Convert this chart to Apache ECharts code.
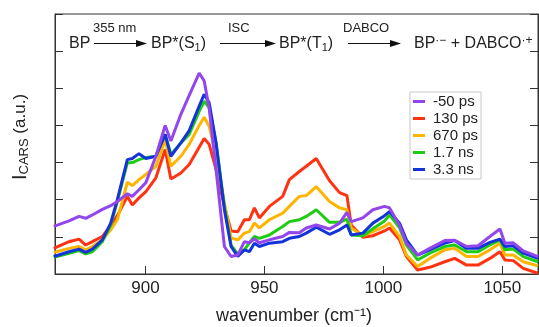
<!DOCTYPE html>
<html>
<head>
<meta charset="utf-8">
<script src="https://cdn.jsdelivr.net/npm/echarts@6/dist/echarts.min.js"></script>
<style>
  html, body { margin: 0; padding: 0; background: #fff; }
  #chart { width: 539px; height: 327px; }
</style>
</head>
<body>
<div id="chart"></div>
<script>
// wavenumber (cm-1) sample positions, shared by all traces
const wavenumber = [861.5, 867.9, 872.1, 874.9, 877.7, 881.9, 885.4, 888.2, 892.4, 894.5,
  897.3, 900.2, 904.4, 908.3, 910.7, 914.9, 918.4, 922.6, 924.7, 926.8,
  929.7, 933.2, 936.0, 938.8, 941.6, 943.7, 945.8, 947.9, 952.1, 957.7,
  960.5, 964.7, 967.6, 971.8, 977.4, 981.6, 984.7, 986.5, 991.4, 995.6,
  1000.5, 1002.6, 1006.8, 1009.7, 1014.4, 1019.5, 1025.8, 1030.0, 1035.0, 1039.8,
  1044.8, 1049.0, 1051.1, 1054.6, 1058.8, 1065.0];

// I_CARS (a.u.) per delay
const minus50ps = [1.28, 1.43, 1.55, 1.50, 1.59, 1.74, 1.84, 1.95, 2.16, 2.09,
  2.27, 2.46, 3.17, 4.00, 3.58, 4.30, 4.81, 5.41, 5.20, 4.46,
  2.80, 0.74, 0.47, 0.51, 0.87, 0.84, 0.95, 0.84, 0.92, 1.01,
  1.12, 1.11, 1.24, 1.32, 1.21, 1.37, 1.66, 1.41, 1.51, 1.73,
  1.82, 1.78, 1.31, 0.83, 0.51, 0.69, 0.90, 0.91, 0.74, 0.76,
  1.01, 1.21, 0.83, 0.84, 0.62, 0.47];
const ps130 = [0.69, 0.87, 0.94, 0.78, 0.87, 1.01, 1.30, 1.57, 2.09, 1.86,
  2.05, 2.22, 2.59, 3.35, 2.56, 2.72, 2.95, 3.41, 3.65, 3.49,
  2.81, 1.82, 1.16, 1.14, 1.46, 1.46, 1.78, 1.51, 1.82, 2.09,
  2.54, 2.76, 2.90, 3.11, 2.51, 2.19, 2.11, 1.32, 0.99, 1.03,
  1.16, 1.24, 0.92, 0.47, 0.11, 0.18, 0.33, 0.42, 0.24, 0.24,
  0.42, 0.60, 0.38, 0.36, 0.15, 0.02];
const ps670 = [0.58, 0.69, 0.74, 0.65, 0.74, 0.92, 1.19, 1.46, 2.47, 2.38,
  2.54, 2.68, 2.90, 3.62, 2.90, 3.17, 3.49, 4.00, 4.22, 3.98,
  3.17, 1.91, 0.97, 0.92, 1.10, 1.14, 1.37, 1.24, 1.46, 1.64,
  1.82, 2.09, 2.11, 2.35, 1.95, 1.78, 1.73, 1.24, 1.03, 1.14,
  1.28, 1.37, 1.01, 0.51, 0.20, 0.42, 0.65, 0.69, 0.47, 0.47,
  0.65, 0.83, 0.51, 0.51, 0.33, 0.22];
const ns1_7 = [0.45, 0.56, 0.63, 0.54, 0.60, 0.87, 1.32, 1.95, 2.99, 3.00,
  3.08, 3.14, 3.17, 3.76, 3.22, 3.53, 3.76, 4.38, 4.65, 4.48,
  3.53, 1.82, 0.78, 0.54, 0.65, 0.84, 1.01, 0.96, 1.05, 1.28,
  1.41, 1.46, 1.55, 1.73, 1.39, 1.39, 1.48, 1.05, 1.03, 1.22,
  1.43, 1.59, 1.24, 0.78, 0.38, 0.56, 0.74, 0.78, 0.60, 0.60,
  0.78, 0.92, 0.65, 0.67, 0.47, 0.33];
const ns3_3 = [0.47, 0.60, 0.67, 0.58, 0.67, 0.92, 1.37, 2.00, 3.08, 3.11,
  3.24, 3.11, 3.17, 3.76, 3.17, 3.53, 3.86, 4.52, 4.84, 4.61,
  3.53, 1.73, 0.74, 0.47, 0.65, 0.60, 0.83, 0.74, 0.83, 0.87,
  0.96, 1.01, 1.10, 1.26, 1.07, 1.19, 1.32, 1.05, 1.10, 1.37,
  1.57, 1.68, 1.37, 0.92, 0.51, 0.65, 0.83, 0.90, 0.69, 0.69,
  0.85, 0.94, 0.74, 0.76, 0.56, 0.42];

const legendNames = ['-50 ps', '130 ps', '670 ps', '1.7 ns', '3.3 ns'];
const xTicks = [900, 950, 1000, 1050];

const FONT = 'Liberation Sans, Arial, Helvetica, sans-serif';
const AXIS = '#333';
const INK = '#222';

const traces = [
  { name: legendNames[0], values: minus50ps, color: '#9346EE', z: 5 },
  { name: legendNames[1], values: ps130, color: '#FF3312', z: 2 },
  { name: legendNames[2], values: ps670, color: '#FFB400', z: 2 },
  { name: legendNames[3], values: ns1_7, color: '#1FCC14', z: 3 },
  { name: legendNames[4], values: ns3_3, color: '#1434DA', z: 4 }
];

const series = traces.map(t => ({
  name: t.name,
  type: 'line',
  data: wavenumber.map((w, i) => [w, t.values[i]]),
  symbol: 'none',
  z: t.z,
  lineStyle: { color: t.color, width: 3 },
  itemStyle: { color: t.color },
  animation: false
}));

// reaction scheme above the traces
const richScheme = {
  m: { font: '16px ' + FONT, fill: INK, lineHeight: 20, verticalAlign: 'middle' },
  sub: { font: '11px ' + FONT, fill: INK, lineHeight: 20, verticalAlign: 'bottom', padding: [0, 0, 1, 0] },
  sup: { font: '12px ' + FONT, fill: INK, lineHeight: 20, verticalAlign: 'top', padding: [1, 0, 0, 0] }
};
function arrow(x1, x2, y) {
  return [
    { type: 'line', shape: { x1: x1, y1: y, x2: x2 - 8, y2: y }, style: { stroke: '#111', lineWidth: 1.2 } },
    { type: 'polygon', shape: { points: [[x2, y], [x2 - 11, y - 3.5], [x2 - 11, y + 3.5]] }, style: { fill: '#111' } }
  ];
}
function label(text, x, y, size) {
  return { type: 'text', x: x, y: y, style: { text: text, font: size + 'px ' + FONT, fill: INK, textVerticalAlign: 'middle' } };
}
function scheme(text, x) {
  return { type: 'text', x: x, y: 44, style: { text: text, rich: richScheme, textVerticalAlign: 'middle' } };
}

const graphic = [
  scheme('{m|BP}', 69),
  ...arrow(94, 147, 43.5),
  label('355 nm', 93, 28, 13),
  scheme('{m|BP*(S}{sub|1}{m|)}', 151),
  ...arrow(220, 276, 43.5),
  label('ISC', 228, 28, 13),
  scheme('{m|BP*(T}{sub|1}{m|)}', 279),
  ...arrow(348, 401, 43.5),
  label('DABCO', 343, 28, 13),
  scheme('{m|BP}{sup|\u00B7\u2212}{m| + DABCO}{sup|\u00B7+}', 414),
  {
    type: 'text', x: 20, y: 137, rotation: Math.PI / 2,
    style: {
      text: '{i|I}{s|CARS}{n| (a.u.)}',
      textAlign: 'center', textVerticalAlign: 'middle',
      rich: {
        i: { font: '20px ' + FONT, fill: INK },
        s: { font: '13px ' + FONT, fill: INK, padding: [8, 0, 0, 0] },
        n: { font: '17px ' + FONT, fill: INK }
      }
    }
  },
  {
    type: 'text', x: 294, y: 316,
    style: { text: 'wavenumber (cm\u207B\u00B9)', font: '18px ' + FONT, fill: INK, textAlign: 'center', textVerticalAlign: 'middle' }
  }
];

const chart = echarts.init(document.getElementById('chart'), null, { renderer: 'canvas' });
chart.setOption({
  animation: false,
  backgroundColor: '#fff',
  grid: { left: 55, right: 1, top: 14, bottom: 53, show: true, borderColor: AXIS, borderWidth: 1 },
  legend: {
    data: legendNames,
    orient: 'vertical',
    left: 410, top: 92,
    icon: 'rect', itemWidth: 12, itemHeight: 3, itemGap: 0,
    padding: [1, 3, 1, 3],
    borderColor: '#c8c8c8', borderWidth: 1, backgroundColor: '#fff',
    textStyle: { fontFamily: FONT, fontSize: 15, color: INK, lineHeight: 17, padding: [0, 0, 0, 3] }
  },
  xAxis: [{
    type: 'value', min: 862, max: 1065,
    axisLine: { lineStyle: { color: AXIS } },
    axisTick: { inside: true, length: 8, lineStyle: { color: AXIS }, customValues: xTicks },
    axisLabel: { fontFamily: FONT, fontSize: 17, color: INK, margin: 6, customValues: xTicks, formatter: v => String(v) },
    splitLine: { show: false }
  }],
  yAxis: [{
    type: 'value', min: 0, max: 7, interval: 1,
    axisLine: { show: true, lineStyle: { color: AXIS } },
    axisTick: { show: true, inside: true, length: 8, lineStyle: { color: AXIS } },
    axisLabel: { show: false },
    splitLine: { show: false }
  }, {
    type: 'value', min: 0, max: 7, interval: 1, position: 'right',
    axisLine: { show: true, lineStyle: { color: AXIS } },
    axisTick: { show: true, inside: true, length: 8, lineStyle: { color: AXIS } },
    axisLabel: { show: false },
    splitLine: { show: false }
  }],
  graphic: graphic,
  series: series
});
</script>
</body>
</html>
